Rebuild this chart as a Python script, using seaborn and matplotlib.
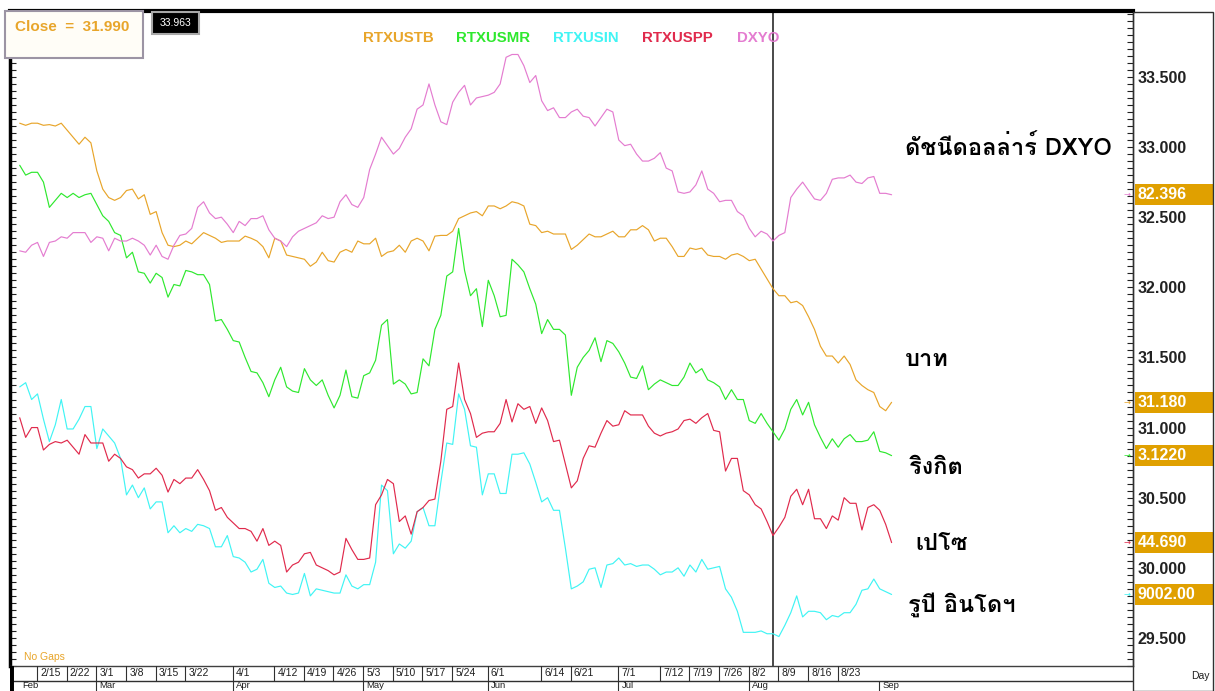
import numpy as np
import pandas as pd
import matplotlib
matplotlib.use("Agg")
import matplotlib.pyplot as plt
import matplotlib.transforms as mtransforms
from matplotlib.patches import Rectangle
from matplotlib import font_manager
from matplotlib.ft2font import FT2Font
import seaborn as sns

sns.set_style("white")
plt.rcParams['font.family'] = ['Liberation Sans', 'DejaVu Sans']

# ============================================
# Data (plotted on the right-hand scale)
# ============================================

dates = pd.bdate_range("2010-02-10", "2010-09-03")

series_names = ["RTXUSTB", "RTXUSMR", "RTXUSIN", "RTXUSPP", "DXYO"]
series_colors = ["#E8A52A", "#2EE82E", "#40F4F4", "#E02A4C", "#E47CD0"]

rtxustb = [
    33.17, 33.155, 33.17, 33.17, 33.155, 33.16, 33.15, 33.17, 33.12, 33.07,
    33.02, 33.07, 33.03, 32.83, 32.70, 32.64, 32.62, 32.64, 32.69, 32.70,
    32.63, 32.66, 32.52, 32.54, 32.39, 32.30, 32.29, 32.30, 32.33, 32.31,
    32.35, 32.39, 32.37, 32.35, 32.32, 32.33, 32.33, 32.33, 32.365, 32.35,
    32.33, 32.29, 32.21, 32.35, 32.33, 32.23, 32.22, 32.21,
    32.20, 32.15, 32.18, 32.25, 32.19, 32.18, 32.25, 32.27, 32.25, 32.33,
    32.31, 32.31, 32.35, 32.22, 32.25, 32.26, 32.30, 32.25, 32.33, 32.35,
    32.33, 32.26, 32.365, 32.37, 32.37, 32.40, 32.49, 32.51, 32.53, 32.54,
    32.51, 32.58, 32.58, 32.56, 32.58, 32.61, 32.60, 32.58, 32.45, 32.44,
    32.39, 32.40, 32.38, 32.38, 32.38, 32.27, 32.30, 32.34,
    32.38, 32.36, 32.36, 32.38, 32.40, 32.36, 32.36, 32.41, 32.41, 32.44,
    32.41, 32.33, 32.35, 32.35, 32.29, 32.22, 32.22, 32.28, 32.27, 32.28,
    32.23, 32.22, 32.22, 32.20, 32.23, 32.24, 32.22, 32.19, 32.20, 32.13,
    32.06, 31.99, 31.94, 31.94, 31.89, 31.90, 31.87, 31.79, 31.70, 31.58,
    31.51, 31.51, 31.46, 31.51, 31.45, 31.34, 31.30, 31.27, 31.25, 31.15, 31.12, 31.18,
]

rtxusmr = [
    32.87, 32.80, 32.82, 32.82, 32.75, 32.57, 32.62, 32.67, 32.64, 32.67,
    32.64, 32.66, 32.67, 32.59, 32.51, 32.47, 32.39, 32.37, 32.21, 32.25,
    32.11, 32.10, 32.03, 32.10, 32.07, 31.93, 32.02, 32.01, 32.12, 32.11,
    32.09, 32.09, 32.02, 31.76, 31.77, 31.70, 31.62, 31.61, 31.50, 31.40,
    31.39, 31.32, 31.22, 31.34, 31.43, 31.29, 31.26, 31.25,
    31.42, 31.34, 31.30, 31.34, 31.23, 31.14, 31.23, 31.41, 31.22, 31.21,
    31.37, 31.39, 31.48, 31.73, 31.77, 31.31, 31.34, 31.31, 31.24, 31.25,
    31.49, 31.44, 31.70, 31.80, 32.08, 32.11, 32.42, 32.12, 31.94, 31.99,
    31.72, 32.05, 31.94, 31.79, 31.80, 32.20, 32.16, 32.11, 31.99, 31.88,
    31.67, 31.77, 31.70, 31.70, 31.66, 31.23, 31.43, 31.50,
    31.55, 31.64, 31.47, 31.62, 31.60, 31.54, 31.46, 31.36, 31.35, 31.44,
    31.27, 31.31, 31.34, 31.32, 31.30, 31.30, 31.36, 31.46, 31.39, 31.42,
    31.34, 31.32, 31.29, 31.20, 31.27, 31.20, 31.20, 31.05, 31.03, 31.10,
    31.03, 30.97, 30.91, 30.99, 31.13, 31.20, 31.09, 31.18, 31.02, 30.93,
    30.85, 30.92, 30.86, 30.92, 30.95, 30.90, 30.90, 30.91, 30.97, 30.83, 30.82, 30.80,
]

rtxusin = [
    31.29, 31.32, 31.20, 31.24, 31.06, 30.90, 31.02, 31.20, 30.99, 30.99,
    31.06, 31.15, 31.15, 30.85, 30.99, 30.94, 30.89, 30.78, 30.52, 30.59,
    30.50, 30.57, 30.42, 30.47, 30.47, 30.25, 30.30, 30.25, 30.28, 30.26,
    30.31, 30.30, 30.28, 30.15, 30.15, 30.23, 30.08, 30.07, 30.04, 29.97,
    29.99, 30.06, 29.89, 29.86, 29.87, 29.82, 29.81, 29.82,
    29.96, 29.80, 29.85, 29.84, 29.83, 29.82, 29.82, 29.95, 29.87, 29.85,
    29.88, 29.88, 30.04, 30.59, 30.55, 30.10, 30.17, 30.14, 30.19, 30.40,
    30.43, 30.30, 30.30, 30.61, 30.89, 30.88, 31.24, 31.13, 30.87, 30.86,
    30.52, 30.67, 30.67, 30.53, 30.53, 30.81, 30.81, 30.82, 30.74, 30.61,
    30.47, 30.50, 30.41, 30.41, 30.14, 29.85, 29.87, 29.90,
    29.99, 30.00, 29.86, 30.02, 30.03, 30.07, 30.02, 30.03, 30.01, 30.02,
    30.02, 29.99, 29.95, 29.97, 29.97, 30.00, 29.94, 30.02, 29.97, 30.06,
    29.99, 30.00, 30.01, 29.85, 29.79, 29.69, 29.54, 29.54, 29.54, 29.55,
    29.53, 29.53, 29.51, 29.59, 29.68, 29.80, 29.65, 29.69, 29.69, 29.68,
    29.63, 29.66, 29.65, 29.68, 29.68, 29.74, 29.84, 29.85, 29.92, 29.85, 29.83, 29.81,
]

rtxuspp = [
    31.07, 30.93, 31.00, 31.00, 30.84, 30.88, 30.90, 30.89, 30.91, 30.86,
    30.81, 30.95, 30.89, 30.89, 30.89, 30.76, 30.81, 30.78, 30.72, 30.70,
    30.64, 30.67, 30.67, 30.71, 30.66, 30.54, 30.63, 30.60, 30.64, 30.64,
    30.70, 30.63, 30.55, 30.41, 30.43, 30.36, 30.32, 30.28, 30.28, 30.26,
    30.19, 30.28, 30.16, 30.19, 30.16, 29.97, 30.02, 30.04,
    30.10, 30.11, 30.02, 30.00, 29.98, 29.95, 29.97, 30.21, 30.13, 30.06,
    30.06, 30.07, 30.45, 30.52, 30.63, 30.60, 30.33, 30.37, 30.24, 30.40,
    30.43, 30.48, 30.49, 30.76, 31.13, 31.15, 31.46, 31.20, 31.10, 30.93,
    30.96, 30.97, 30.97, 31.03, 31.20, 31.04, 31.17, 31.13, 31.15, 31.03,
    31.14, 31.05, 30.90, 30.91, 30.74, 30.57, 30.62, 30.78,
    30.87, 30.86, 30.96, 31.05, 31.01, 31.02, 31.12, 31.09, 31.09, 31.09,
    31.01, 30.96, 30.94, 30.96, 30.97, 30.99, 31.05, 31.06, 31.03, 31.07,
    31.10, 30.98, 30.97, 30.69, 30.78, 30.78, 30.55, 30.52, 30.45, 30.42,
    30.33, 30.23, 30.29, 30.36, 30.51, 30.56, 30.45, 30.56, 30.35, 30.35,
    30.28, 30.37, 30.34, 30.50, 30.46, 30.46, 30.27, 30.43, 30.45, 30.41, 30.31, 30.18,
]

dxyo = [
    32.26, 32.25, 32.30, 32.32, 32.22, 32.32, 32.33, 32.36, 32.35, 32.39,
    32.39, 32.39, 32.32, 32.36, 32.35, 32.26, 32.35, 32.33, 32.33, 32.35,
    32.33, 32.30, 32.23, 32.30, 32.22, 32.20, 32.30, 32.37, 32.38, 32.42,
    32.57, 32.61, 32.53, 32.49, 32.50, 32.45, 32.39, 32.47, 32.44, 32.49,
    32.49, 32.51, 32.41, 32.35, 32.33, 32.29, 32.36, 32.40,
    32.42, 32.44, 32.46, 32.51, 32.49, 32.50, 32.61, 32.66, 32.59, 32.57,
    32.64, 32.84, 32.95, 33.07, 33.01, 32.95, 32.99, 33.07, 33.13, 33.27,
    33.30, 33.45, 33.30, 33.18, 33.16, 33.32, 33.39, 33.44, 33.30, 33.35,
    33.36, 33.37, 33.39, 33.45, 33.64, 33.66, 33.66, 33.58, 33.46, 33.51,
    33.33, 33.26, 33.28, 33.21, 33.21, 33.25, 33.27, 33.22,
    33.21, 33.15, 33.21, 33.27, 33.25, 33.05, 33.01, 33.02, 32.95, 32.90,
    32.90, 32.92, 32.96, 32.85, 32.83, 32.68, 32.67, 32.68, 32.73, 32.83,
    32.70, 32.67, 32.61, 32.62, 32.62, 32.54, 32.51, 32.42, 32.36, 32.40,
    32.38, 32.33, 32.37, 32.39, 32.64, 32.70, 32.75, 32.69, 32.63, 32.62,
    32.67, 32.77, 32.78, 32.78, 32.80, 32.75, 32.74, 32.78, 32.79, 32.67, 32.67, 32.66,
]

series_values = [rtxustb, rtxusmr, rtxusin, rtxuspp, dxyo]

# last-value boxes on the right axis (original units of each instrument)
last_labels = ["31.180", "3.1220", "9002.00", "44.690", "82.396"]

# thai captions, with their series
captions = ["บาท", "ริงกิต", "รูปี อินโดฯ", "เปโซ", "ดัชนีดอลล่าร์ DXYO"]

date_labels = ["2/15", "2/22", "3/1", "3/8", "3/15", "3/22", "4/1", "4/12",
               "4/19", "4/26", "5/3", "5/10", "5/17", "5/24", "6/1", "6/14",
               "6/21", "7/1", "7/12", "7/19", "7/26", "8/2", "8/9", "8/16", "8/23"]
month_labels = ["Feb", "Mar", "Apr", "May", "Jun", "Jul", "Aug", "Sep"]

cursor_date = "2010-08-06"
close_text = "Close  =  31.990"
cursor_text = "33.963"

# ============================================
# Helpers
# ============================================

W, H = 1215, 691


def fx(x):
    return x / W


def fy(y):
    return 1 - y / H


def thai_family():
    # look for an installed font that can draw thai letters
    for entry in font_manager.fontManager.ttflist:
        try:
            if 0x0E01 in FT2Font(entry.fname).get_charmap():
                return entry.name
        except Exception:
            pass
    return "DejaVu Sans"


THAI = [thai_family(), "DejaVu Sans"]

df = pd.DataFrame({
    "day": np.tile(np.arange(len(dates)), len(series_names)),
    "value": np.concatenate(series_values),
    "series": np.repeat(series_names, len(dates)),
})

# ============================================
# Figure
# ============================================

fig = plt.figure(figsize=(W / 100, H / 100), dpi=100)
fig.patch.set_facecolor("white")

ax = fig.add_axes([fx(10), 25 / H, 1123 / W, (666 - 11) / H])

sns.lineplot(
    data=df, x="day", y="value", hue="series",
    hue_order=series_names, palette=series_colors,
    estimator=None, legend=False, linewidth=0.85, ax=ax
)

x0 = -1.64
x1 = 187.7
ax.set_xlim(x0, x1)
ax.set_ylim(29.30, 33.97)
ax.set_xlabel("")
ax.set_ylabel("")
ax.set_xticks([])

ax.set_yticks(np.arange(29.5, 33.51, 0.5))
ax.set_yticks(np.arange(29.30, 33.97, 0.05), minor=True)
ax.set_yticklabels([f"{v:.3f}" for v in np.arange(29.5, 33.51, 0.5)])
ax.tick_params(axis="y", which="both", direction="in", left=True, right=True,
               labelleft=False, labelright=True, length=4, width=0.8,
               color="#202020", pad=3.5)
for lab in ax.get_yticklabels():
    lab.set_fontsize(11.5)
    lab.set_fontweight("bold")
    lab.set_color("#222222")

ax.spines["top"].set_linewidth(3)
ax.spines["top"].set_color("black")
ax.spines["left"].set_linewidth(2.5)
ax.spines["left"].set_color("black")
ax.spines["right"].set_linewidth(1)
ax.spines["right"].set_color("#404040")
ax.spines["bottom"].set_linewidth(1)
ax.spines["bottom"].set_color("#404040")

# cursor line
cursor_i = dates.get_loc(pd.Timestamp(cursor_date))
ax.axvline(cursor_i, color="#3a3a3a", linewidth=1.3, zorder=1)

# legend row
legend_x = [363, 456, 553, 642, 737]
for name, color, lx in zip(series_names, series_colors, legend_x):
    fig.text(fx(lx), fy(38), name, color=color, fontsize=10.8,
             fontweight="bold", va="center", ha="left")

# right panel frame
fig.add_artist(Rectangle((fx(1133), 0), 80 / W, fy(12), transform=fig.transFigure,
                         facecolor="none", edgecolor="#303030", linewidth=1))

# last value boxes and arrows
trans = mtransforms.blended_transform_factory(ax.transAxes, ax.transData)
box_h = 21 / 140
for vals, color, lab in zip(series_values, series_colors, last_labels):
    y = vals[-1]
    ax.add_patch(Rectangle((1.0015, y - box_h / 2), 79 / 1123, box_h,
                           transform=trans, facecolor="#E0A000",
                           edgecolor="none", clip_on=False, zorder=4))
    ax.text(1.004, y, lab, transform=trans, color="white", fontsize=11.5,
            fontweight="bold", va="center", ha="left", clip_on=False, zorder=5)
    ax.text(0.9975, y, "→", transform=trans, color=color, fontsize=6,
            va="center", ha="right", family="DejaVu Sans", clip_on=False)

# thai captions
caption_pos = [(905, 360), (910, 468), (908, 605), (915, 543), (905, 148)]
for text, (cx, cy) in zip(captions, caption_pos):
    fig.text(fx(cx), fy(cy), text, fontsize=17, fontweight="bold",
             color="black", va="center", ha="left", family=THAI)

# close box and cursor value box
fig.add_artist(Rectangle((fx(5), fy(58)), 138 / W, 47 / H, transform=fig.transFigure,
                         facecolor="#FFFDF7", edgecolor="#9C94A4", linewidth=1.5,
                         zorder=5))
fig.text(fx(15), fy(27), close_text, color="#E8A52A", fontsize=11,
         fontweight="bold", va="center", ha="left", zorder=6)
fig.add_artist(Rectangle((fx(152), fy(34)), 47 / W, 22 / H, transform=fig.transFigure,
                         facecolor="black", edgecolor="#A8A8A8", linewidth=1.5,
                         zorder=5))
fig.text(fx(175.5), fy(23), cursor_text, color="white", fontsize=7.5,
         va="center", ha="center", zorder=6)

fig.text(fx(24), fy(657), "No Gaps", color="#E8A52A", fontsize=7.5,
         va="center", ha="left")
fig.text(fx(1200), fy(676), "Day", color="#202020", fontsize=7.5,
         va="center", ha="center")

# ============================================
# Date strip under the chart
# ============================================

ax2 = fig.add_axes([fx(10), 0, 1123 / W, 25 / H])
ax2.set_xlim(x0, x1)
ax2.set_ylim(0, 25)
ax2.axis("off")
ax2.axhline(10, color="#303030", linewidth=1)
ax2.axvline(x0, color="black", linewidth=5)

for lab in date_labels:
    m, d = lab.split("/")
    i = dates.get_loc(pd.Timestamp(2010, int(m), int(d)))
    ax2.plot([i - 0.1, i - 0.1], [10, 25], color="#303030", linewidth=0.8)
    ax2.text(i + 0.45, 17.5, lab, fontsize=7.5, color="#202020",
             va="center", ha="left")

for k, lab in enumerate(month_labels):
    if k == 0:
        i = 0
    else:
        i = int(np.argmax(dates.month == k + 2))
        ax2.plot([i - 0.1, i - 0.1], [0, 10], color="#303030", linewidth=0.8)
    ax2.text(i + 0.45, 0.6, lab, fontsize=6.8, color="#202020",
             va="bottom", ha="left")

fig.savefig("out.png", dpi=100)
